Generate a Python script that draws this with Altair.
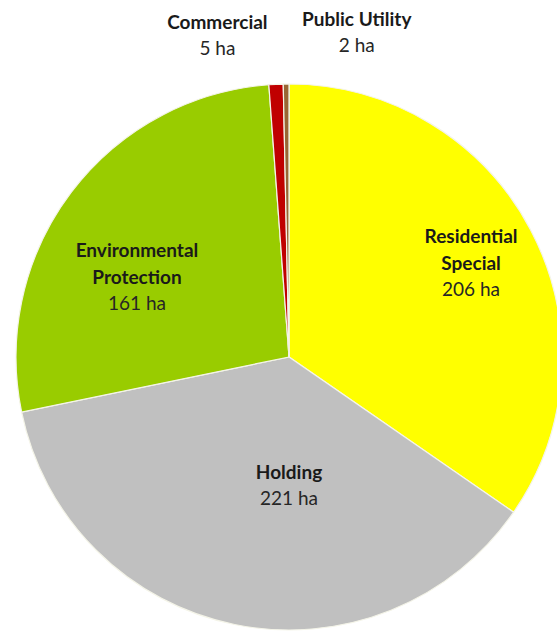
import math
import altair as alt
import pandas as pd

# ---- data ----
categories = ["Residential Special", "Holding", "Environmental Protection", "Commercial", "Public Utility"]
name_lines = [["Residential", "Special"], ["Holding"], ["Environmental", "Protection"], ["Commercial"], ["Public Utility"]]
areas_ha = [206, 221, 161, 5, 2]
colors = ["#FFFF00", "#C0C0C0", "#99CC00", "#C00000", "#996633"]

# ---- label layout (polar placement of the value line: angle in degrees, radius in px) ----
label_angle_deg = [69.8, 180, 289.2, 346.9, 12.3]
label_radius_px = [194, 142, 161, 316, 318]
LINE_H = 26.5

CX, CY, R = 289, 357, 273


def polar_shift(angle_deg, r, dy_px):
    """Move a polar anchor vertically by dy_px (screen pixels) and return (theta_rad, r)."""
    a = math.radians(angle_deg)
    x = r * math.sin(a)
    y = -r * math.cos(a) + dy_px
    return math.atan2(x, -y), math.hypot(x, y)


val_theta, val_r, name_theta, name_r = [], [], [], []
for ang, rad, lines in zip(label_angle_deg, label_radius_px, name_lines):
    t, rr = polar_shift(ang, rad, 0)
    val_theta.append(t)
    val_r.append(rr)
    t, rr = polar_shift(ang, rad, -LINE_H * len(lines))
    name_theta.append(t)
    name_r.append(rr)

df = pd.DataFrame({
    "category": categories,
    "name": ["\n".join(l) for l in name_lines],
    "area": areas_ha,
    "order": list(range(len(categories))),
    "value_label": [f"{v} ha" for v in areas_ha],
    "val_theta": val_theta,
    "val_r": val_r,
    "name_theta": name_theta,
    "name_r": name_r,
})

base = alt.Chart(df)

pie = base.mark_arc(radius=R, stroke="#F4F4E8", strokeWidth=1.2).encode(
    x=alt.value(CX),
    y=alt.value(CY),
    theta=alt.Theta("area:Q", stack=True),
    order=alt.Order("order:Q"),
    color=alt.Color("category:N", scale=alt.Scale(domain=categories, range=colors), legend=None),
)

values = base.mark_text(font="Lato", fontSize=19, color="#262626", baseline="middle", align="center").encode(
    x=alt.value(CX),
    y=alt.value(CY),
    theta=alt.Theta("val_theta:Q", scale=None),
    radius=alt.Radius("val_r:Q", scale=None),
    text="value_label:N",
)

names = base.mark_text(font="Lato", fontSize=19, fontWeight="bold", color="#1a1a1a",
                       baseline="middle", align="center", lineBreak="\n", lineHeight=LINE_H).encode(
    x=alt.value(CX),
    y=alt.value(CY),
    theta=alt.Theta("name_theta:Q", scale=None),
    radius=alt.Radius("name_r:Q", scale=None),
    text="name:N",
)

chart = alt.layer(pie, names, values).properties(
    width=557, height=633,
    autosize=alt.AutoSizeParams(type="none"),
    padding=0,
).configure_view(stroke=None)

chart.save("out.html", embed_options={"renderer": "svg", "actions": False})
